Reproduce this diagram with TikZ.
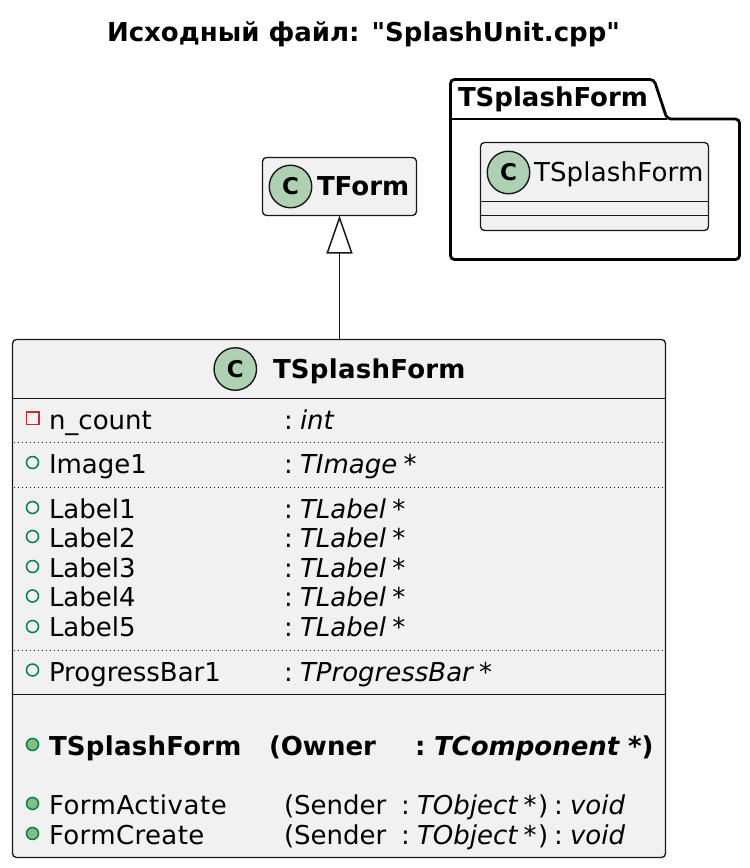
\documentclass[tikz,border=0pt]{standalone}
\usepackage{fontspec}
\setmainfont{DejaVu Sans}
\newfontfamily\rawdv{DejaVu Sans}
\usetikzlibrary{arrows.meta}
\definecolor{boxfill}{HTML}{F1F1F1}
\definecolor{lineink}{HTML}{181818}
\definecolor{spot}{HTML}{ADD1B2}
\definecolor{pubgreen}{HTML}{038048}
\definecolor{pubfill}{HTML}{84BE84}
\definecolor{privred}{HTML}{C82930}
\tikzset{
  x=1pt,y=-1pt,
  classbox/.style={draw=lineink,fill=boxfill,line width=1.3pt,rounded corners=4pt,inner sep=0pt,outer sep=0pt},
  rowline/.style={draw=lineink,line width=1.3pt},
  dotline/.style={draw=lineink,line width=1.5pt,dash pattern=on 1.4pt off 2.6pt},
  spotc/.style={circle,draw=lineink,fill=spot,line width=1.4pt,minimum size=42.5pt,inner sep=0pt,font=\fontsize{23}{23}\selectfont\bfseries},
  txt/.style={anchor=base west,inner sep=0pt,outer sep=0pt,font=\fontsize{26}{26}\selectfont},
  txtb/.style={txt,font=\fontsize{26}{26}\selectfont\bfseries},
  pubf/.style={circle,draw=pubgreen,line width=1.5pt,minimum size=12pt,inner sep=0pt},
  pubm/.style={pubf,fill=pubfill},
  priv/.style={rectangle,draw=privred,line width=1.5pt,minimum size=12.5pt,inner sep=0pt},
  inherit/.style={draw=lineink,line width=1.5pt,-{Triangle[open,length=38pt,width=26pt,fill=white]}}
}
\newcommand{\rowtxt}[3]{\node[txt] at (49,#1) {#2}; \node[txt] at (284,#1) {:}; \node[txt] at (300,#1) {\textit{#3}};}
\begin{document}
\begin{tikzpicture}
\useasboundingbox (0,0) rectangle (750,868);
\node[anchor=base,inner sep=0pt,font=\fontsize{26}{26}\rawdv\bfseries] (title) at (363.5,41) {Исходный файл: "SplashUnit.cpp"};
% package
\draw[line width=2.8pt,draw=black,fill=white,rounded corners=4pt] (450.5,119) -- (450.5,79.5) -- (654,79.5) -- (667,119) -- (739.5,119) -- (739.5,259.5) -- (450.5,259.5) -- cycle;
\draw[line width=2.8pt,draw=black] (450.5,119) -- (667,119);
\node[txtb] (pkglabel) at (458,106) {TSplashForm};
% inner class
\node[classbox,minimum width=228pt,minimum height=88pt] (inner) at (594.5,186.5) {};
\draw[rowline] (480.5,201.5) -- (708.5,201.5);
\draw[rowline] (480.5,215.5) -- (708.5,215.5);
\node[spotc] (innerc) at (508.5,172.5) {C};
\node[txt] (innertxt) at (534,181) {\addfontfeature{LetterSpace=0.7}TSplashForm};
% TForm
\node[classbox,minimum width=154pt,minimum height=58pt] (tform) at (339.5,186.5) {};
\node[spotc] (tformc) at (290.5,186.5) {C};
\node[txtb] (tformtxt) at (317,195) {TForm};
% main class
\node[classbox,minimum width=653pt,minimum height=518pt] (main) at (339,598.5) {};
\draw[inherit] (main.north -| tform.south) -- (tform.south);
\node[spotc] (mainc) at (235.3,369) {C};
\node[txtb] (maintxt) at (273,378) {\addfontfeature{LetterSpace=1}TSplashForm};
\draw[rowline] (12.5,398.5) -- (665.5,398.5);
\draw[dotline] (14,442.5) -- (665,442.5);
\draw[dotline] (14,487.5) -- (665,487.5);
\draw[dotline] (14,650.5) -- (665,650.5);
\draw[rowline,line width=1.8pt] (12.5,694.5) -- (665.5,694.5);
% icons
\node[priv] (i0) at (32.5,418) {};
\node[pubf] (i1) at (32.5,462.5) {};
\node[pubf] (i2) at (32.5,507.5) {};
\node[pubf] (i3) at (32.5,536.5) {};
\node[pubf] (i4) at (32.5,566.5) {};
\node[pubf] (i5) at (32.5,596) {};
\node[pubf] (i6) at (32.5,626.5) {};
\node[pubf] (i7) at (32.5,670) {};
\node[pubm] (i8) at (32.5,744.5) {};
\node[pubm] (i9) at (32.5,803.5) {};
\node[pubm] (i10) at (32.5,833.5) {};
% rows
\rowtxt{429}{n\_count}{int}
\rowtxt{473}{Image1}{TImage\hspace{-2pt} *}
\rowtxt{518}{Label1}{TLabel\hspace{-2pt} *}
\rowtxt{547}{Label2}{TLabel\hspace{-2pt} *}
\rowtxt{577}{Label3}{TLabel\hspace{-2pt} *}
\rowtxt{606.5}{Label4}{TLabel\hspace{-2pt} *}
\rowtxt{636.5}{Label5}{TLabel\hspace{-2pt} *}
\rowtxt{681}{ProgressBar1}{TProgressBar\hspace{-2pt} *}
\node[txtb] at (49,755) {\addfontfeature{LetterSpace=1}TSplashForm};
\node[txtb] at (269,755) {(Owner};
\node[txtb] at (415,755) {:};
\node[txtb] at (434,755) {\textit{TComponent}};
\node[txtb] at (628,755) {\textit{*})};
\node[txt] at (49,814) {\addfontfeature{LetterSpace=2}FormActivate};
\node[txt] at (284,814) {(Sender};
\node[txt] at (401,814) {:};
\node[txt] at (417,814) {\textit{TObject}};
\node[txt] at (523.5,814) {\textit{*}};
\node[txt] at (538,814) {)};
\node[txt] at (554,814) {:};
\node[txt] at (570,814) {\textit{void}};
\node[txt] at (49,844) {\addfontfeature{LetterSpace=1.5}FormCreate};
\node[txt] at (284,844) {(Sender};
\node[txt] at (401,844) {:};
\node[txt] at (417,844) {\textit{TObject}};
\node[txt] at (523.5,844) {\textit{*}};
\node[txt] at (538,844) {)};
\node[txt] at (554,844) {:};
\node[txt] at (570,844) {\textit{void}};
\end{tikzpicture}
\end{document}
